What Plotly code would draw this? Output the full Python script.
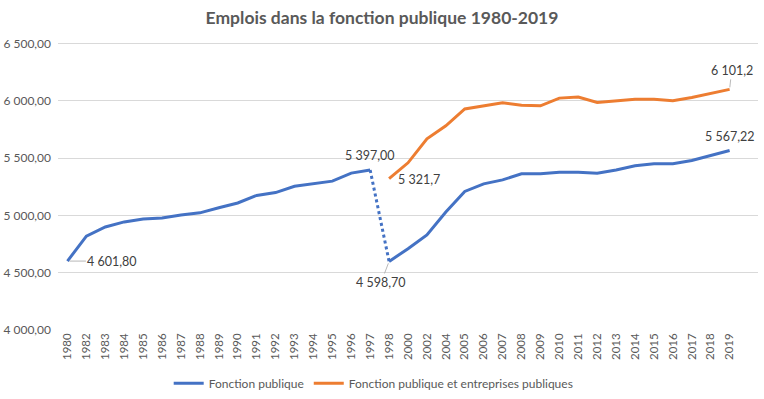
import plotly.graph_objects as go

years = ["1980", "1982", "1983", "1984", "1985", "1986", "1987", "1988", "1989", "1990",
         "1991", "1992", "1993", "1994", "1995", "1996", "1997", "1998", "2000", "2002",
         "2004", "2005", "2006", "2007", "2008", "2009", "2010", "2011", "2012", "2013",
         "2014", "2015", "2016", "2017", "2018", "2019"]

fonction_publique = [4601.80, 4820, 4900, 4944, 4970, 4979, 5005, 5023, 5068, 5109,
                     5175, 5200, 5255, 5275, 5300, 5370, 5397.00, 4598.70, 4710, 4830,
                     5031, 5210, 5276, 5311, 5364, 5364, 5378, 5378, 5369, 5398,
                     5434, 5451, 5451, 5480, 5524, 5567.22]

fp_entreprises = [None] * 17 + [5321.7, 5460, 5670, 5783, 5930, 5958, 5985, 5962, 5958,
                                6025, 6034, 5987, 6002, 6016, 6016, 6002, 6031, 6068, 6101.2]

series_names = ["Fonction publique", "Fonction publique et entreprises publiques"]
title_text = "Emplois dans la fonction publique 1980-2019"

BLUE = "#4472C4"
ORANGE = "#ED7D31"
GREY = "#595959"
FONT = "Lato, 'Liberation Sans', sans-serif"

idx = list(range(len(years)))
brk = years.index("1998")

fig = go.Figure()
fig.add_trace(go.Scatter(x=idx[:brk], y=fonction_publique[:brk], mode="lines",
                         line=dict(color=BLUE, width=3), name=series_names[0],
                         showlegend=True, legendgroup="fp", hoverinfo="skip"))
fig.add_trace(go.Scatter(x=idx[brk - 1:brk + 1], y=fonction_publique[brk - 1:brk + 1], mode="lines",
                         line=dict(color=BLUE, width=3, dash="dot"), showlegend=False,
                         legendgroup="fp", hoverinfo="skip"))
fig.add_trace(go.Scatter(x=idx[brk:], y=fonction_publique[brk:], mode="lines",
                         line=dict(color=BLUE, width=3), showlegend=False,
                         legendgroup="fp", hoverinfo="skip"))
fig.add_trace(go.Scatter(x=idx, y=fp_entreprises, mode="lines",
                         line=dict(color=ORANGE, width=3), name=series_names[1],
                         hoverinfo="skip"))

def fmt(v, dec):
    s = f"{v:,.{dec}f}"
    return s.replace(",", " ").replace(".", ",")

last = len(years) - 1
i1997 = years.index("1997")
annots = [
    dict(x=0, y=fonction_publique[0], text=fmt(fonction_publique[0], 2), ax=45, ay=0, showarrow=True),
    dict(x=i1997, y=fonction_publique[i1997], text=fmt(fonction_publique[i1997], 2), ax=0, ay=-15, showarrow=False),
    dict(x=brk, y=fonction_publique[brk], text=fmt(fonction_publique[brk], 2), ax=-8, ay=21, showarrow=True),
    dict(x=brk, y=fp_entreprises[brk], text=fmt(fp_entreprises[brk], 1), ax=30, ay=1, showarrow=False),
    dict(x=last, y=fp_entreprises[last], text=fmt(fp_entreprises[last], 1), ax=2, ay=-19, showarrow=True),
    dict(x=last, y=fonction_publique[last], text=fmt(fonction_publique[last], 2), ax=0, ay=-14, showarrow=False),
]
for a in annots:
    base = dict(xref="x", yref="y", font=dict(family=FONT, size=12.5, color="#404040"))
    if a["showarrow"]:
        base.update(dict(x=a["x"], y=a["y"], text=a["text"], showarrow=True, ax=a["ax"], ay=a["ay"],
                         arrowhead=0, arrowwidth=0.8, arrowcolor="#A6A6A6", standoff=2))
    else:
        base.update(dict(x=a["x"], y=a["y"], text=a["text"], showarrow=False,
                         xshift=a["ax"], yshift=-a["ay"]))
    fig.add_annotation(**base)

fig.update_layout(
    width=764, height=399,
    margin=dict(l=58, r=6, t=42, b=69, autoexpand=False),
    paper_bgcolor="white", plot_bgcolor="white",
    separators=", ",
    title=dict(text="<b>" + title_text + "</b>", x=0.5, xanchor="center", y=0.955, yanchor="middle",
               font=dict(family=FONT, size=17.5, color=GREY)),
    font=dict(family=FONT, color=GREY),
    legend=dict(orientation="h", x=0.451, xanchor="center", y=-0.185, yanchor="middle",
                font=dict(family=FONT, size=12, color=GREY), itemwidth=30,
                traceorder="normal", tracegroupgap=0),
    xaxis=dict(range=[-0.5, 36.5], tickmode="array", tickvals=idx, ticktext=years,
               tickangle=-90, tickfont=dict(family=FONT, size=11.5, color=GREY),
               showgrid=False, zeroline=False, showline=False, ticks="", automargin=False),
    yaxis=dict(range=[4000, 6515], tickmode="array", tickvals=[4000, 4500, 5000, 5500, 6000, 6500],
               tickformat=",.2f", tickfont=dict(family=FONT, size=12, color=GREY),
               showgrid=True, gridcolor="#D9D9D9", gridwidth=1, zeroline=False, showline=False,
               ticks="", ticklabelstandoff=6, automargin=False),
)

fig.write_html("out.html", config={"displayModeBar": False},
               post_script="document.body.style.margin='0';")
